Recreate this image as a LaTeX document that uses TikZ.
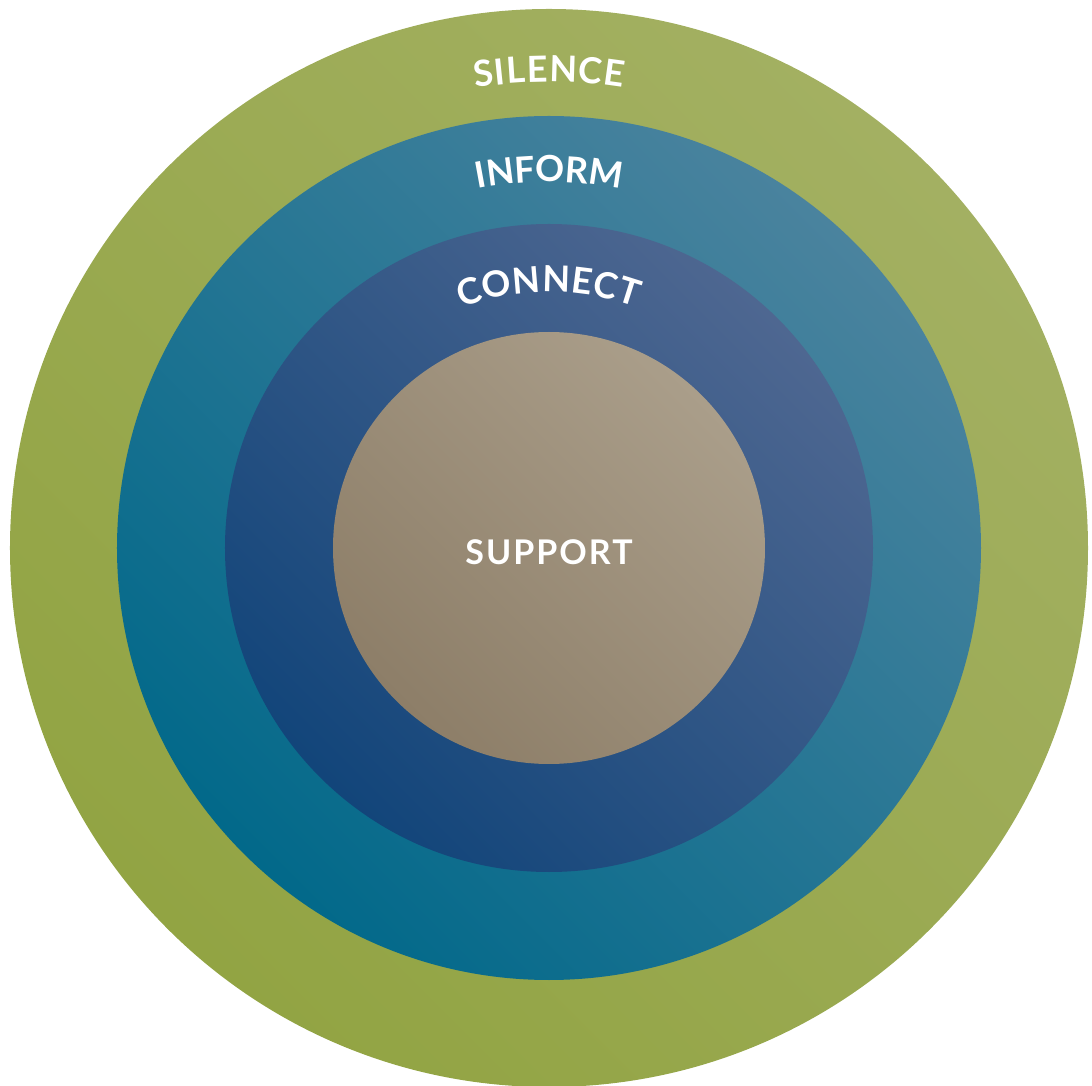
\documentclass[tikz,border=0pt]{standalone}
\usepackage{fontspec}
\setmainfont{Lato}
\definecolor{silL}{HTML}{A3B062}
\definecolor{silD}{HTML}{92A443}
\definecolor{infL}{HTML}{4A839E}
\definecolor{infD}{HTML}{02698A}
\definecolor{conL}{HTML}{4E6791}
\definecolor{conD}{HTML}{12457A}
\definecolor{supL}{HTML}{AA9E8A}
\definecolor{supD}{HTML}{8D7E68}
\newcommand\letterfont{\fontsize{36}{40}\selectfont\bfseries}
% #1 name prefix, #2 baseline radius, #3 target arc length, #4 letters
\newcommand\arcword[4]{%
  \begingroup\letterfont
  \gdef\accw{0}\gdef\nlet{0}%
  \foreach \ch in {#4}{%
    \pgfmathwidth{"\ch"}\pgfmathsetmacro\tmpa{\accw+\pgfmathresult}\xdef\accw{\tmpa}%
    \pgfmathtruncatemacro\tmpn{\nlet+1}\xdef\nlet{\tmpn}}%
  \pgfmathsetmacro\mygap{(#3-\accw)/(\nlet-1)}%
  \xdef\mygap{\mygap}%
  \gdef\mypos{0}%
  \foreach \ch [count=\i] in {#4}{%
    \pgfmathwidth{"\ch"}\let\myw\pgfmathresult
    \pgfmathsetmacro\mys{\mypos+\myw/2-#3/2}%
    \pgfmathsetmacro\myang{\mys/(#2+13)*180/pi}%
    \node[letter,rotate=-\myang] (#1\i) at ([shift={(90-\myang:#2)}]c) {\ch};
    \pgfmathsetmacro\tmpb{\mypos+\myw+\mygap}\xdef\mypos{\tmpb}}%
  \endgroup}
\begin{document}
\begin{tikzpicture}[x=1pt,y=1pt,
  ring/.style={top color=#1L,bottom color=#1D,shading angle=-45},
  letter/.style={text=white,inner sep=0pt,anchor=base,font=\letterfont}]
\useasboundingbox (-549,-538) rectangle (543,548);
\shade[ring=sil] (0,0) circle (539);
\shade[ring=inf] (0,0) circle (432);
\shade[ring=con] (0,0) circle (324);
\shade[ring=sup] (0,0) circle (216);
\coordinate (c) at (0,0);
\arcword{s}{466}{152}{S,I,L,E,N,C,E}
\arcword{f}{366}{148}{I,N,F,O,R,M}
\arcword{k}{256}{186}{C,O,N,N,E,C,T}
\node[letter,font=\fontsize{34}{40}\selectfont\bfseries\addfontfeature{LetterSpace=6}] (sup) at (0,-17) {SUPPORT};
\end{tikzpicture}
\end{document}
